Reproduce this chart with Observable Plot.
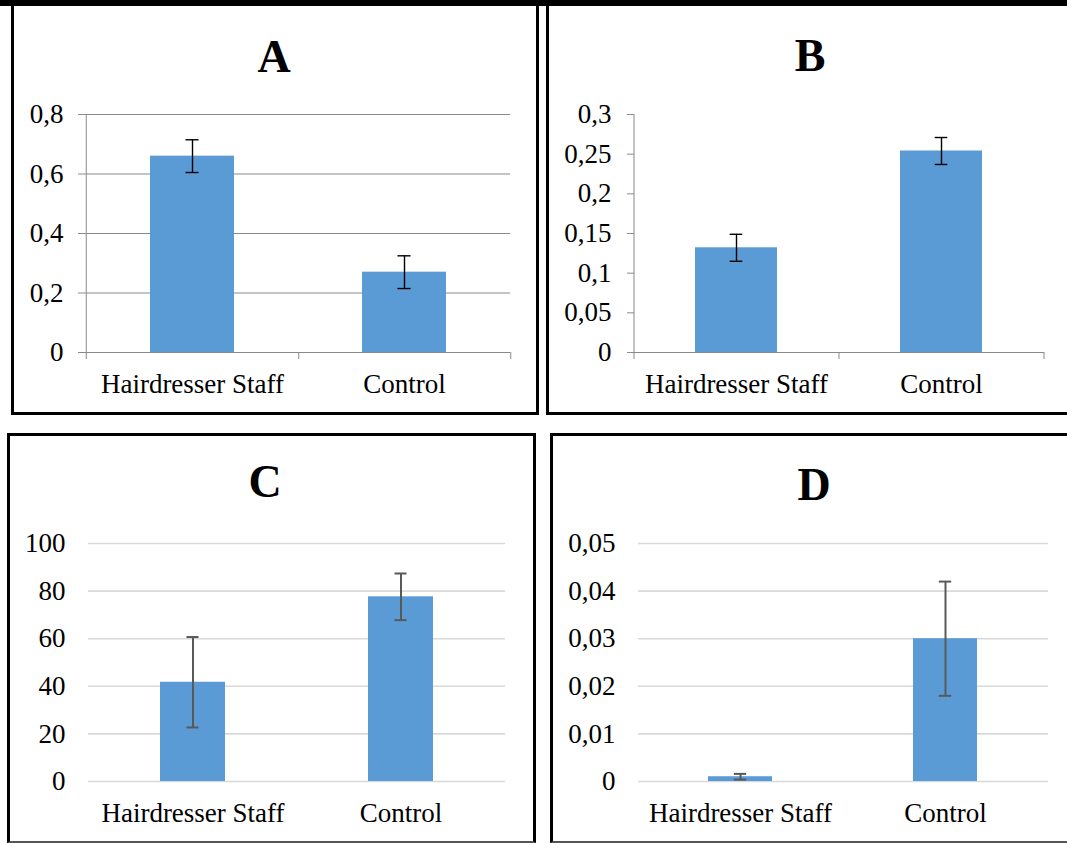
<!DOCTYPE html>
<html><head><meta charset="utf-8">
<script src="https://cdn.jsdelivr.net/npm/d3@7"></script>
<script src="https://cdn.jsdelivr.net/npm/@observablehq/plot@0.6"></script>
<style>
body{margin:0;background:#fff;width:1067px;height:843px;position:relative;overflow:hidden;font-family:"Liberation Serif","Times New Roman",serif;}
.topbar{position:absolute;left:0;top:0;width:1067px;height:6px;background:#000;}
.panel{position:absolute;box-sizing:border-box;border:3px solid #000;}
.panel.low{border-bottom:2px solid #555;}
.title{position:absolute;width:200px;text-align:center;font-weight:bold;font-size:46px;line-height:46px;color:#000;font-family:"Liberation Serif",serif;}
.chart{position:absolute;}
</style></head><body>
<div class="topbar"></div>
<div class="panel" style="left:11px;top:0px;width:528px;height:415px;"></div>
<div class="panel" style="left:546px;top:0px;width:530px;height:415px;"></div>
<div class="panel low" style="left:7px;top:433px;width:529px;height:410px;"></div>
<div class="panel low" style="left:550px;top:433px;width:530px;height:410px;"></div>
<div class="title" style="left:174px;top:33.5px;">A</div>
<div class="title" style="left:710px;top:32.5px;">B</div>
<div class="title" style="left:165px;top:458.5px;">C</div>
<div class="title" style="left:714px;top:461.5px;">D</div>
<div id="cA" class="chart" style="left:14px;top:90px;"></div>
<div id="cB" class="chart" style="left:549px;top:90px;"></div>
<div id="cC" class="chart" style="left:10px;top:520px;"></div>
<div id="cD" class="chart" style="left:553px;top:520px;"></div>
<script>
const categories = ["Hairdresser Staff", "Control"];

const meanA = [0.66, 0.27];
const errA = [0.055, 0.055];
const ticksA = [0, 0.2, 0.4, 0.6, 0.8];

const meanB = [0.132, 0.254];
const errB = [0.017, 0.017];
const ticksB = [0, 0.05, 0.1, 0.15, 0.2, 0.25, 0.3];

const meanC = [41.7, 77.6];
const errC = [19, 9.8];
const ticksC = [0, 20, 40, 60, 80, 100];

const meanD = [0.001, 0.030];
const errD = [0.0006, 0.012];
const ticksD = [0, 0.01, 0.02, 0.03, 0.04, 0.05];

const fmt = d => String(d).replace(".", ",");

function build(cfg) {
  const {id, width, height, ml, mr, mt, mb, mean, err, ticks, padding, mode, errColor, errWidth, capWidth, tickPadding} = cfg;
  const data = categories.map((c, i) => ({cat: c, mean: mean[i], lo: mean[i] - err[i], hi: mean[i] + err[i]}));
  const fw = width - ml - mr, fh = height - mt - mb;
  const step = fw / categories.length;
  const bw = step * (1 - padding);
  const capInset = (bw - capWidth) / 2;
  const marks = [];
  if (mode === "dark") {
    marks.push(Plot.ruleY(ticks, {stroke: "#8a8a8a", strokeWidth: 1, insetLeft: -7}));
  } else if (mode === "ticks") {
    marks.push(Plot.ruleY(ticks, {stroke: "#8a8a8a", strokeWidth: 1, insetLeft: -7, insetRight: fw}));
    marks.push(Plot.ruleY([0], {stroke: "#8a8a8a", strokeWidth: 1, insetLeft: -7}));
  } else {
    marks.push(Plot.ruleY(ticks, {stroke: "#d9d9d9", strokeWidth: 1.6}));
  }
  if (mode !== "light") {
    marks.push(Plot.ruleX([categories[0]], {dx: -step / 2, stroke: "#8a8a8a", insetBottom: -7}));
    marks.push(Plot.ruleX(categories, {dx: step / 2, stroke: "#8a8a8a", insetTop: fh, insetBottom: -7}));
  }
  marks.push(Plot.barY(data, {x: "cat", y: "mean", fill: "#5b9bd5"}));
  marks.push(Plot.ruleX(data, {x: "cat", y1: "lo", y2: "hi", stroke: errColor, strokeWidth: errWidth}));
  marks.push(Plot.tickY(data, {x: "cat", y: "hi", stroke: errColor, strokeWidth: errWidth, insetLeft: capInset, insetRight: capInset}));
  marks.push(Plot.tickY(data, {x: "cat", y: "lo", stroke: errColor, strokeWidth: errWidth, insetLeft: capInset, insetRight: capInset}));

  const chart = Plot.plot({
    width, height,
    marginLeft: ml, marginRight: mr, marginTop: mt, marginBottom: mb,
    x: {type: "band", domain: categories, paddingInner: padding, paddingOuter: padding / 2, label: null, tickSize: 0, tickPadding: 21},
    y: {domain: [0, ticks[ticks.length - 1]], ticks, tickFormat: fmt, tickSize: 0, tickPadding, label: null},
    style: {fontFamily: '"Liberation Serif", "Times New Roman", serif', fontSize: "27px", color: "#000", background: "transparent", overflow: "visible"},
    marks
  });
  document.getElementById(id).appendChild(chart);
}

build({id: "cA", width: 520, height: 320, ml: 71, mr: 24, mt: 24, mb: 58, mean: meanA, err: errA, ticks: ticksA, padding: 0.605, mode: "dark", errColor: "#000", errWidth: 1.4, capWidth: 13, tickPadding: 22});
build({id: "cB", width: 518, height: 320, ml: 85, mr: 23, mt: 24, mb: 58, mean: meanB, err: errB, ticks: ticksB, padding: 0.598, mode: "ticks", errColor: "#000", errWidth: 1.4, capWidth: 13, tickPadding: 23});
build({id: "cC", width: 523, height: 318, ml: 78, mr: 28, mt: 23, mb: 57, mean: meanC, err: errC, ticks: ticksC, padding: 0.686, mode: "light", errColor: "#595959", errWidth: 2, capWidth: 12.5, tickPadding: 23});
build({id: "cD", width: 514, height: 318, ml: 85, mr: 19, mt: 23, mb: 57, mean: meanD, err: errD, ticks: ticksD, padding: 0.687, mode: "light", errColor: "#595959", errWidth: 2, capWidth: 12.5, tickPadding: 23});
</script>
</body></html>
